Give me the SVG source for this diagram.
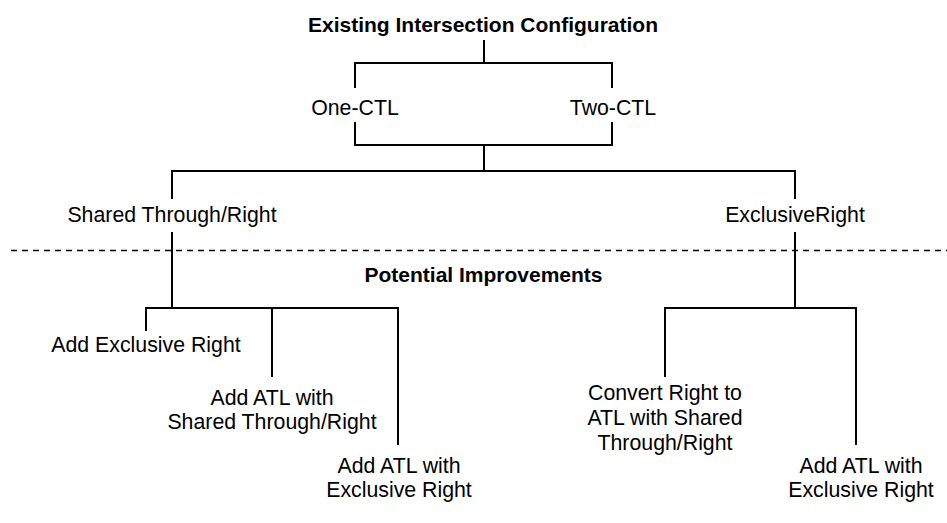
<svg xmlns="http://www.w3.org/2000/svg" width="947" height="523" viewBox="0 0 947 523">
  <style>
    text { font-family: "Liberation Sans", Arial, sans-serif; font-size: 21.3px; fill: #000; text-anchor: middle; }
    .head { font-weight: bold; font-size: 21px; }
    .wire { fill: none; stroke: #000; stroke-width: 2; }
    .divider { fill: none; stroke: #000; stroke-width: 1.6; stroke-dasharray: 6 5; }
  </style>
  <rect width="947" height="523" fill="#fff"/>

  <!-- tree connectors -->
  <g id="connectors" class="wire">
    <path d="M484 40 V63 M355 88 V63 H612 V88"/>
    <path d="M355 122 V145 H612 V122 M484 145 V171"/>
    <path d="M172 199 V171 H795 V199"/>
    <path d="M172 232 V308 M146 331 V308 H398 V445 M272 308 V377"/>
    <path d="M795 232 V308 M665 377 V308 H856 V445"/>
  </g>

  <!-- separator between existing layout and improvements -->
  <line class="divider" x1="11" y1="250.5" x2="947" y2="250.5"/>

  <g id="existing-config"><text class="head" x="483" y="31.5">Existing Intersection Configuration</text></g>
  <g id="one-ctl"><text x="355" y="115">One-CTL</text></g>
  <g id="two-ctl"><text x="613" y="115">Two-CTL</text></g>
  <g id="shared-through-right"><text x="172" y="222">Shared Through/Right</text></g>
  <g id="exclusive-right"><text x="795" y="222">ExclusiveRight</text></g>
  <g id="potential-improvements"><text class="head" x="483.5" y="281.5">Potential Improvements</text></g>

  <g id="add-exclusive-right"><text x="146" y="352">Add Exclusive Right</text></g>
  <g id="add-atl-shared">
    <text x="272" y="405">Add ATL with</text>
    <text x="272" y="429">Shared Through/Right</text>
  </g>
  <g id="add-atl-exclusive-left">
    <text x="399" y="473">Add ATL with</text>
    <text x="399" y="497">Exclusive Right</text>
  </g>
  <g id="convert-right">
    <text x="665" y="400">Convert Right to</text>
    <text x="665" y="425">ATL with Shared</text>
    <text x="665" y="450">Through/Right</text>
  </g>
  <g id="add-atl-exclusive-right">
    <text x="861" y="473">Add ATL with</text>
    <text x="861" y="497">Exclusive Right</text>
  </g>
</svg>
